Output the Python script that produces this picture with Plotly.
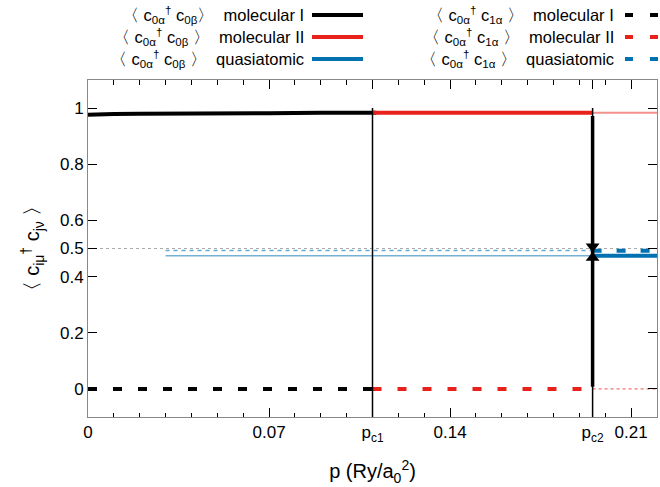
import plotly.graph_objects as go

# ---------------- data ----------------
pc1 = 0.110
pc2 = 0.1951
p_max = 0.22

p_mol1 = [0.0, 0.005, 0.01, 0.02, 0.03, 0.05, 0.07, 0.09, 0.1115]
n_mol1 = [0.976, 0.978, 0.979, 0.980, 0.981, 0.982, 0.982, 0.983, 0.983]

p_mol2 = [pc1, pc2]
n_mol2 = [0.983, 0.983]
p_mol2_meta = [0.107, pc1]          # short metastable piece before pc1
p_mol2_after = [pc2, p_max]          # metastable continuation after pc2
n_mol2_after = [0.983, 0.983]

p_quasi_meta = [0.03, pc2]
n_quasi_meta = [0.474, 0.474]
p_quasi = [pc2, p_max]
n_quasi = [0.474, 0.474]

t_quasi_meta = [0.493, 0.493]
t_quasi = [0.492, 0.492]

p_hop_mol1 = [0.0, pc1]
t_hop_mol1 = [0.0, 0.0]
p_hop_mol2 = [pc1, pc2]
t_hop_mol2 = [0.0, 0.0]

half_line = [0.5, 0.5]

x_tickvals = [0.0, 0.07, pc1, 0.14, pc2, 0.21]
x_ticktext = ["0", "0.07", "p<sub>c1</sub>", "0.14", "p<sub>c2</sub>", "0.21"]
y_tickvals = [0, 0.2, 0.4, 0.5, 0.6, 0.8, 1]
y_ticktext = ["0", "0.2", "0.4", "0.5", "0.6", "0.8", "1"]

legend_left = [
    ("〈 c<sub>0α</sub><sup>†</sup> c<sub>0β</sub>〉  molecular I", "black", "solid"),
    ("〈 c<sub>0α</sub><sup>†</sup> c<sub>0β</sub> 〉  molecular II", "#e8221a", "solid"),
    ("〈 c<sub>0α</sub><sup>†</sup> c<sub>0β</sub> 〉  quasiatomic", "#0072b2", "solid"),
]
legend_right = [
    ("〈 c<sub>0α</sub><sup>†</sup> c<sub>1α</sub> 〉  molecular I", "black", "8px,17px"),
    ("〈 c<sub>0α</sub><sup>†</sup> c<sub>1α</sub> 〉  molecular II", "#e8221a", "8px,17px"),
    ("〈 c<sub>0α</sub><sup>†</sup> c<sub>1α</sub> 〉  quasiatomic", "#0072b2", "8px,17px"),
]

RED = "#e8221a"
BLUE = "#0072b2"
FONT = "Liberation Sans, Arial, sans-serif"

fig = go.Figure()

def line(x, y, color, width, dash="solid"):
    fig.add_trace(go.Scatter(x=x, y=y, mode="lines", showlegend=False,
                             line=dict(color=color, width=width, dash=dash),
                             hoverinfo="skip"))

# reference 0.5 line
line([0, p_max], half_line, "#aaaaaa", 1, "3px,3px")

# thin metastable branches
line(p_quasi_meta, n_quasi_meta, "rgba(0,114,178,0.55)", 1.5)
line(p_quasi_meta, t_quasi_meta, "rgba(0,114,178,0.6)", 1.5, "4px,4px")
line(p_mol2_after, n_mol2_after, "rgba(232,34,26,0.5)", 2)
line(p_mol2_after, [0, 0], "rgba(232,34,26,0.8)", 1, "3px,3px")
line(p_mol2_meta, [0.983, 0.983], RED, 1.5)
line(p_mol2_meta, [0.0, 0.0], RED, 1.5)

# main branches
line(p_mol1, n_mol1, "black", 4)
line(p_hop_mol1, t_hop_mol1, "black", 4, "9px,16px")
line(p_mol2, n_mol2, RED, 4)
line(p_hop_mol2, t_hop_mol2, RED, 4, "9px,16px")
line(p_quasi, n_quasi, BLUE, 4)
line(p_quasi, t_quasi, BLUE, 4, "9px,15px")

# transition lines
line([pc1, pc1], [1.0, -0.1], "black", 1.5)
line([pc2, pc2], [1.0, -0.1], "black", 1.5)
line([pc2, pc2], [0.972, 0.008], "black", 3.5)
fig.add_trace(go.Scatter(x=[pc2, pc2], y=[0.507, 0.467], mode="markers",
                         showlegend=False, hoverinfo="skip",
                         marker=dict(symbol=["triangle-down", "triangle-up"],
                                     size=12, color="black",
                                     line=dict(width=0))))

# manual gnuplot-style key
def key_y(py):
    return (417 - py) / 337

shapes = []
annotations = []
rows_y = [15, 37, 59]
for (txt, col, dash), py in zip(legend_left, rows_y):
    annotations.append(dict(text=txt, xref="paper", yref="paper",
                            x=(306 - 88) / 569, y=key_y(py), xanchor="right",
                            yanchor="middle", showarrow=False,
                            font=dict(family=FONT, size=16.5, color="black")))
    shapes.append(dict(type="line", xref="paper", yref="paper",
                       x0=(312 - 88) / 569, x1=(363 - 88) / 569,
                       y0=key_y(py), y1=key_y(py),
                       line=dict(color=col, width=4, dash=dash)))
for (txt, col, dash), py in zip(legend_right, rows_y):
    annotations.append(dict(text=txt, xref="paper", yref="paper",
                            x=(616 - 88) / 569, y=key_y(py), xanchor="right",
                            yanchor="middle", showarrow=False,
                            font=dict(family=FONT, size=16.5, color="black")))
    shapes.append(dict(type="line", xref="paper", yref="paper",
                       x0=(625 - 88) / 569, x1=(662 - 88) / 569,
                       y0=key_y(py), y1=key_y(py),
                       line=dict(color=col, width=4, dash=dash)))

fig.update_layout(
    width=660, height=487,
    margin=dict(l=88, r=3, t=80, b=70),
    paper_bgcolor="white", plot_bgcolor="white",
    font=dict(family=FONT, size=17, color="black"),
    shapes=shapes, annotations=annotations,
    xaxis=dict(range=[0, p_max], tickvals=x_tickvals, ticktext=x_ticktext,
               ticks="inside", ticklen=9, tickcolor="black", tickwidth=1,
               minor=dict(dtick=0.01, tick0=0, ticks="inside", ticklen=4.5,
                          tickcolor="black", tickwidth=1, showgrid=False),
               showgrid=False, zeroline=False, showline=True,
               linecolor="#888888", linewidth=1, mirror="allticks",
               title=dict(text="p (Ry/a<sub>0</sub><sup>2</sup>)", standoff=20),
               tickfont=dict(size=17)),
    yaxis=dict(range=[-0.1, 1.1], tickvals=y_tickvals, ticktext=y_ticktext,
               ticks="inside", ticklen=9, tickcolor="black", tickwidth=1,
               showgrid=False, zeroline=False, showline=True,
               linecolor="#888888", linewidth=1, mirror="allticks",
               title=dict(text="〈 c<sub>iμ</sub><sup>†</sup> c<sub>jν</sub> 〉", standoff=14),
               tickfont=dict(size=17)),
)

fig.write_html("out.html")
